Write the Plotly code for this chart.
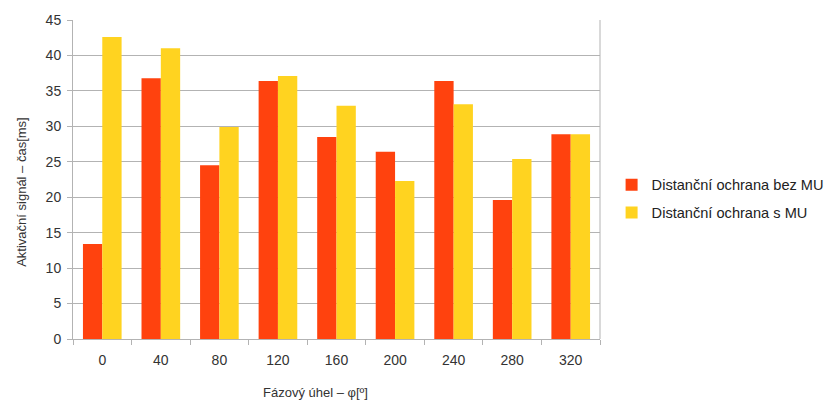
import plotly.graph_objects as go

# Phase angle categories and activation times [ms]
angles = ["0", "40", "80", "120", "160", "200", "240", "280", "320"]
bez_mu = [13.4, 36.8, 24.5, 36.4, 28.5, 26.4, 36.4, 19.6, 28.9]
s_mu = [42.6, 41.0, 29.9, 37.1, 32.9, 22.3, 33.1, 25.4, 28.9]

x_title = "Fázový úhel – φ[º]"
y_title = "Aktivační signál – čas[ms]"

font_family = "Liberation Sans, Arial, sans-serif"

fig = go.Figure()
fig.add_trace(go.Bar(x=angles, y=bez_mu, name="Distanční ochrana bez MU",
                     legendgroup="bez", marker=dict(color="#FF420E", line=dict(width=0))))
fig.add_trace(go.Bar(x=angles, y=s_mu, name="Distanční ochrana s MU",
                     legendgroup="s", marker=dict(color="#FFD320", line=dict(width=0))))

fig.update_layout(
    width=830, height=401,
    margin=dict(l=73, r=230, t=20, b=62, autoexpand=False),
    paper_bgcolor="white", plot_bgcolor="white",
    barmode="group", bargap=0.34, bargroupgap=0,
    font=dict(family=font_family, size=14, color="#333333"),
    legend=dict(x=1.022, y=0.44, xanchor="left", yanchor="middle",
                font=dict(size=14.6, color="#222222"),
                itemwidth=30, tracegroupgap=6),
    xaxis=dict(
        type="category", tickson="boundaries", ticks="outside", ticklen=5,
        tickcolor="#b3b3b3", showline=True, linecolor="#b3b3b3", linewidth=1,
        mirror=False, showgrid=False, ticklabelstandoff=8,
    ),
    yaxis=dict(
        range=[0, 45], dtick=5, ticks="outside", ticklen=5, tickcolor="#b3b3b3",
        showline=True, linecolor="#b3b3b3", linewidth=1, ticklabelstandoff=3,
        showgrid=True, gridcolor="#b3b3b3", gridwidth=1, zeroline=False,
    ),
)

# Axis titles
fig.add_annotation(text=x_title, xref="paper", yref="paper", x=0.461, y=-0.169,
                   xanchor="center", yanchor="middle", showarrow=False,
                   font=dict(size=13, color="#333333"))
fig.add_annotation(text=y_title, xref="paper", yref="paper", x=-0.097, y=0.461,
                   xanchor="center", yanchor="middle", showarrow=False, textangle=-90,
                   font=dict(size=13, color="#333333"))

# Right edge of the plot area frame
fig.add_shape(type="line", xref="paper", yref="paper", x0=1, x1=1, y0=0, y1=1,
              line=dict(color="#b3b3b3", width=1))

fig.write_html("out.html")
